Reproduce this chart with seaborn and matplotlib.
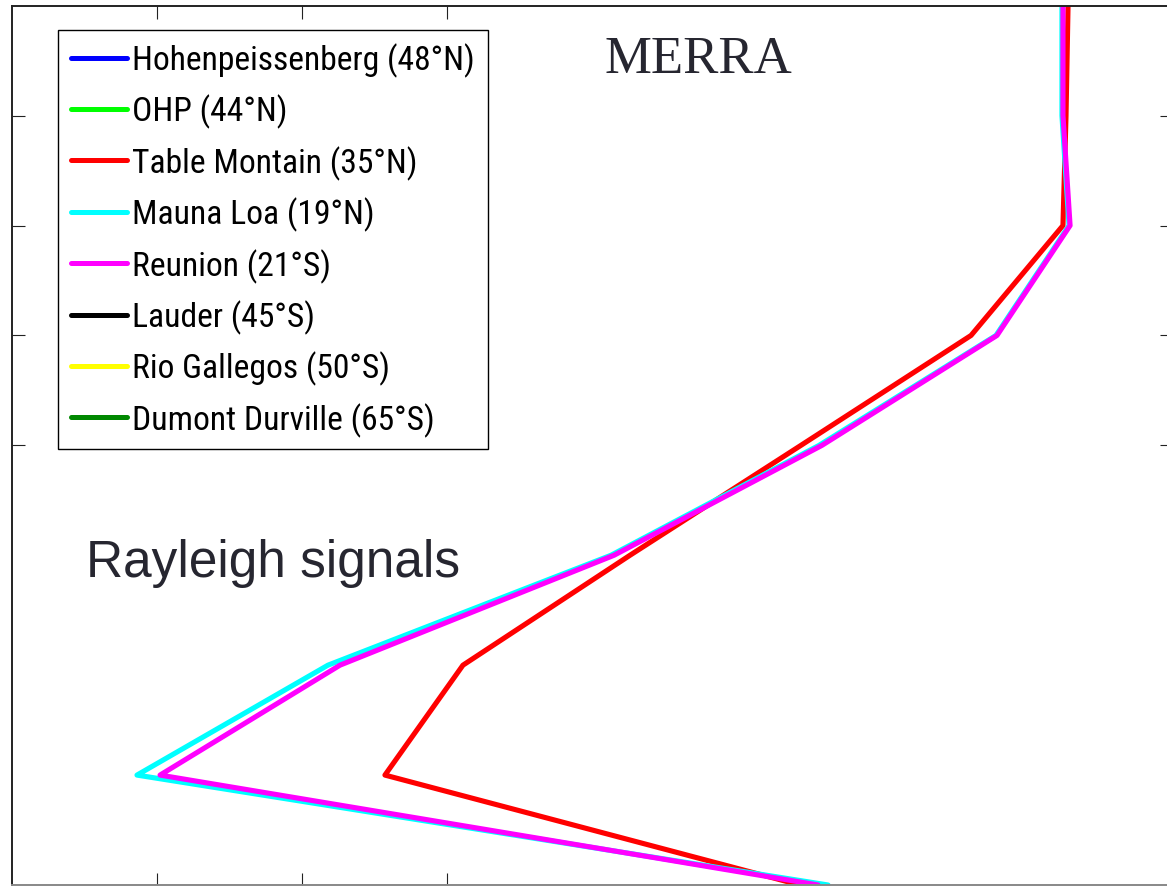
import numpy as np
import pandas as pd
import matplotlib
matplotlib.use("Agg")
import matplotlib.pyplot as plt
from matplotlib.lines import Line2D
from matplotlib import font_manager
import seaborn as sns

# ---- data ----
stations = ["Hohenpeissenberg (48°N)", "OHP (44°N)", "Table Montain (35°N)",
            "Mauna Loa (19°N)", "Reunion (21°S)", "Lauder (45°S)",
            "Rio Gallegos (50°S)", "Dumont Durville (65°S)"]
colors = ["#0000ff", "#00ff00", "#ff0000", "#00ffff", "#ff00ff",
          "#000000", "#ffff00", "#008800"]
levels = [0, 1, 2, 3, 4, 5, 6, 7, 8]
table_montain = [5.434, 2.572, 3.110, 4.262, 5.441, 6.614, 7.248, 7.269, 7.283]
mauna_loa = [5.628, 0.862, 2.179, 4.131, 5.566, 6.786, 7.290, 7.241, 7.241]
reunion = [5.559, 1.021, 2.262, 4.152, 5.586, 6.793, 7.297, 7.248, 7.248]
xticks = [1, 2, 3]
yticks = [4, 5, 6, 7]

series = {stations[2]: table_montain, stations[3]: mauna_loa, stations[4]: reunion}
rows = []
for name, vals in series.items():
    for lev, v in zip(levels, vals):
        rows.append({"station": name, "value": v, "level": lev})
df = pd.DataFrame(rows)

sns.set_style("white")

# pick a narrow sans font if one is available
fprops = None
entries = font_manager.fontManager.ttflist
for cand in ["Liberation Sans Narrow", "Roboto Condensed", "Open Sans Condensed",
             "Noto Sans Condensed", "DejaVu Sans Condensed"]:
    for f in entries:
        if f.name == cand and f.weight in (400, "normal", "regular") and f.style == "normal":
            fprops = font_manager.FontProperties(fname=f.fname)
            break
    if fprops is not None:
        break
if fprops is None:
    for f in entries:
        fn = f.fname.lower()
        if ("condensed" in fn or "narrow" in fn) and "bold" not in fn and "oblique" not in fn \
                and "italic" not in fn and "light" not in fn and "sans" in fn:
            fprops = font_manager.FontProperties(fname=f.fname)
            break
if fprops is None:
    fprops = font_manager.FontProperties(family="Liberation Sans")

fig = plt.figure(figsize=(11.67, 8.87), dpi=100)
ax = fig.add_axes([12 / 1167, 1 / 887, 1160 / 1167, 879.3 / 887])

# measure label width to fit the legend box of the reference
renderer = fig.canvas.get_renderer()
probe_fp = fprops.copy()
probe_fp.set_size(20)
t = fig.text(0, 0, stations[0], fontproperties=probe_fp)
w20 = t.get_window_extent(renderer).width
t.remove()
fsize = 20 * 343 / w20
fsize = min(fsize, 29)
fpx = fsize * 100 / 72
label_fp = fprops.copy()
label_fp.set_size(fsize)
t = fig.text(0, 0, "Hg", fontproperties=label_fp)
h_txt = t.get_window_extent(renderer).height
t.remove()

palette = dict(zip(stations, colors))
order = [stations[2], stations[3], stations[4]]
sns.lineplot(data=df, x="value", y="level", hue="station", hue_order=order,
             palette=palette, sort=False, estimator=None, linewidth=3.7,
             legend=False, ax=ax)

ax.set_xlim(0, 8)
ax.set_ylim(0, 8)
ax.set_xticks(xticks)
ax.set_yticks(yticks)
ax.set_xticklabels([])
ax.set_yticklabels([])
ax.set_xlabel("")
ax.set_ylabel("")
ax.tick_params(direction="in", length=9, width=0.8, color="#222222",
               top=True, right=True, bottom=True, left=True)
for s in ["left", "top", "right"]:
    ax.spines[s].set_color("#222222")
    ax.spines[s].set_linewidth(1.4)
ax.spines["bottom"].set_color("#888888")
ax.spines["bottom"].set_linewidth(1.4)

row_px = 51.3
labelspacing = max((row_px - h_txt - 2.4) / fpx, 0.05)
pad_px = 12.5
handles = [Line2D([], [], color=c, lw=3.6) for c in colors]
leg = ax.legend(handles, stations, loc="upper left",
                bbox_to_anchor=(46 / 1160, (886 - 31) / 879.3),
                borderaxespad=0, frameon=True, fancybox=False,
                framealpha=1, edgecolor="black", prop=label_fp,
                handlelength=56 / fpx, handletextpad=6 / fpx,
                borderpad=pad_px / fpx, labelspacing=labelspacing,
                labelcolor="black")
leg.get_frame().set_linewidth(1.0)

ax.text((605 - 12) / 145, (886 - 72) / 110, "MERRA", family="Liberation Serif",
        fontsize=38, color="#262630", ha="left", va="baseline")
ax.text((86 - 12) / 145, (886 - 577) / 110, "Rayleigh signals",
        family="Liberation Sans", fontsize=37, color="#262630",
        ha="left", va="baseline")

fig.savefig("out.png", dpi=100)
